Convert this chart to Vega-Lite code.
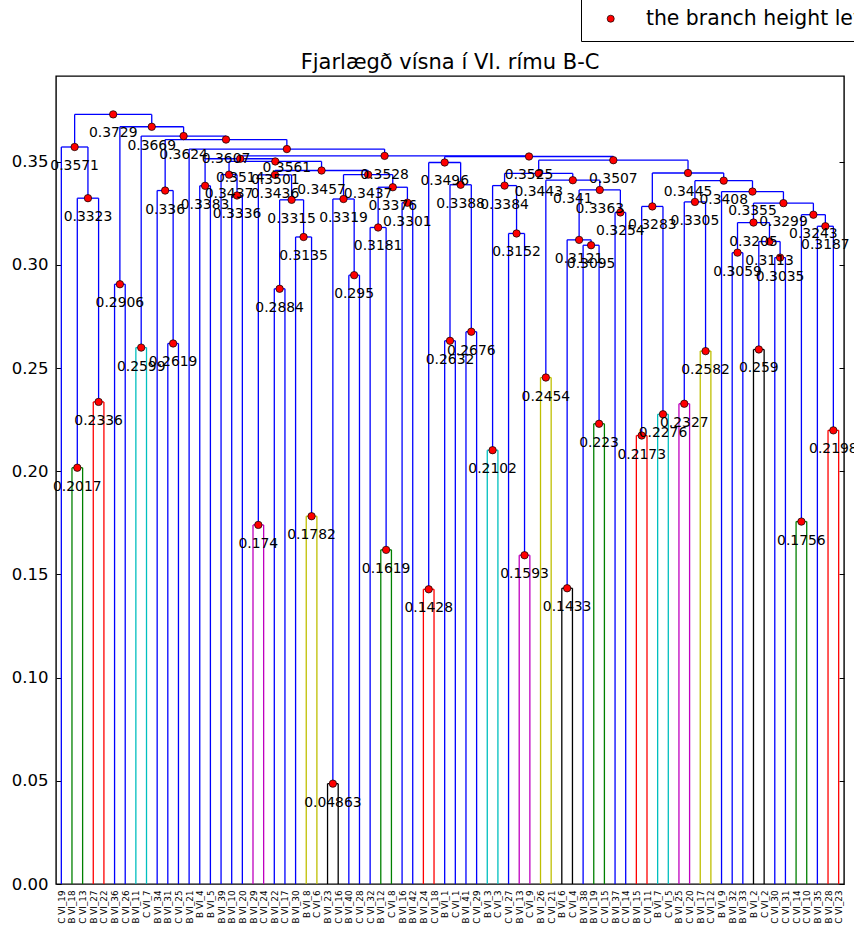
{
 "$schema": "https://vega.github.io/schema/vega-lite/v6.json",
 "width": 788, "height": 808,
 "autosize": {"type": "none"},
 "padding": {"left": 56, "top": 76, "right": 10, "bottom": 42},
 "background": "white",
 "title": {"text": "Fjarlægð vísna í VI. rímu B-C", "fontSize": 21, "fontWeight": "normal", "font": "DejaVu Sans", "color": "black", "offset": 8, "dy": 101, "anchor": "middle", "baseline": "alphabetic"},
 "config": {"view": {"stroke": "black", "strokeWidth": 1.4}, "font": "DejaVu Sans", "axis": {"grid": false, "domain": false}},
 "data": {"values": [
{"h":0.2017,"xl":15,"xr":25,"hl":0,"hr":0,"x":20,"k":"g"},
{"h":0.2336,"xl":35,"xr":45,"hl":0,"hr":0,"x":40,"k":"r"},
{"h":0.3323,"xl":20,"xr":40,"hl":0.2017,"hr":0.2336,"x":30,"k":"b"},
{"h":0.3571,"xl":5,"xr":30,"hl":0,"hr":0.3323,"x":17.5,"k":"b"},
{"h":0.2906,"xl":55,"xr":65,"hl":0,"hr":0,"x":60,"k":"b"},
{"h":0.2599,"xl":75,"xr":85,"hl":0,"hr":0,"x":80,"k":"c"},
{"h":0.2619,"xl":105,"xr":115,"hl":0,"hr":0,"x":110,"k":"b"},
{"h":0.336,"xl":95,"xr":110,"hl":0,"hr":0.2619,"x":102.5,"k":"b"},
{"h":0.3383,"xl":135,"xr":145,"hl":0,"hr":0,"x":140,"k":"b"},
{"h":0.3336,"xl":165,"xr":175,"hl":0,"hr":0,"x":170,"k":"b"},
{"h":0.3437,"xl":155,"xr":170,"hl":0,"hr":0.3336,"x":162.5,"k":"b"},
{"h":0.174,"xl":185,"xr":195,"hl":0,"hr":0,"x":190,"k":"m"},
{"h":0.2884,"xl":205,"xr":215,"hl":0,"hr":0,"x":210,"k":"b"},
{"h":0.1782,"xl":235,"xr":245,"hl":0,"hr":0,"x":240,"k":"y"},
{"h":0.3135,"xl":225,"xr":240,"hl":0,"hr":0.1782,"x":232.5,"k":"b"},
{"h":0.3315,"xl":210,"xr":232.5,"hl":0.2884,"hr":0.3135,"x":221.25,"k":"b"},
{"h":0.3436,"xl":190,"xr":221.25,"hl":0.174,"hr":0.3315,"x":205.625,"k":"b"},
{"h":0.04863,"xl":255,"xr":265,"hl":0,"hr":0,"x":260,"k":"k"},
{"h":0.295,"xl":275,"xr":285,"hl":0,"hr":0,"x":280,"k":"b"},
{"h":0.3319,"xl":260,"xr":280,"hl":0.04863,"hr":0.295,"x":270,"k":"b"},
{"h":0.1619,"xl":305,"xr":315,"hl":0,"hr":0,"x":310,"k":"g"},
{"h":0.3181,"xl":295,"xr":310,"hl":0,"hr":0.1619,"x":302.5,"k":"b"},
{"h":0.3301,"xl":325,"xr":335,"hl":0,"hr":0,"x":330,"k":"b"},
{"h":0.3376,"xl":302.5,"xr":330,"hl":0.3181,"hr":0.3301,"x":316.25,"k":"b"},
{"h":0.3437,"xl":270,"xr":316.25,"hl":0.3319,"hr":0.3376,"x":293.125,"k":"b"},
{"h":0.3457,"xl":205.625,"xr":293.125,"hl":0.3436,"hr":0.3437,"x":249.375,"k":"b"},
{"h":0.3501,"xl":162.5,"xr":249.375,"hl":0.3437,"hr":0.3457,"x":205.938,"k":"b"},
{"h":0.3514,"xl":140,"xr":205.938,"hl":0.3383,"hr":0.3501,"x":172.969,"k":"b"},
{"h":0.1428,"xl":345,"xr":355,"hl":0,"hr":0,"x":350,"k":"r"},
{"h":0.2632,"xl":365,"xr":375,"hl":0,"hr":0,"x":370,"k":"b"},
{"h":0.2676,"xl":385,"xr":395,"hl":0,"hr":0,"x":390,"k":"b"},
{"h":0.3388,"xl":370,"xr":390,"hl":0.2632,"hr":0.2676,"x":380,"k":"b"},
{"h":0.3496,"xl":350,"xr":380,"hl":0.1428,"hr":0.3388,"x":365,"k":"b"},
{"h":0.2102,"xl":405,"xr":415,"hl":0,"hr":0,"x":410,"k":"c"},
{"h":0.1593,"xl":435,"xr":445,"hl":0,"hr":0,"x":440,"k":"m"},
{"h":0.3152,"xl":425,"xr":440,"hl":0,"hr":0.1593,"x":432.5,"k":"b"},
{"h":0.3384,"xl":410,"xr":432.5,"hl":0.2102,"hr":0.3152,"x":421.25,"k":"b"},
{"h":0.2454,"xl":455,"xr":465,"hl":0,"hr":0,"x":460,"k":"y"},
{"h":0.1433,"xl":475,"xr":485,"hl":0,"hr":0,"x":480,"k":"k"},
{"h":0.223,"xl":505,"xr":515,"hl":0,"hr":0,"x":510,"k":"g"},
{"h":0.3095,"xl":495,"xr":510,"hl":0,"hr":0.223,"x":502.5,"k":"b"},
{"h":0.3121,"xl":480,"xr":502.5,"hl":0.1433,"hr":0.3095,"x":491.25,"k":"b"},
{"h":0.3254,"xl":525,"xr":535,"hl":0,"hr":0,"x":530,"k":"b"},
{"h":0.3363,"xl":491.25,"xr":530,"hl":0.3121,"hr":0.3254,"x":510.625,"k":"b"},
{"h":0.341,"xl":460,"xr":510.625,"hl":0.2454,"hr":0.3363,"x":485.313,"k":"b"},
{"h":0.3443,"xl":421.25,"xr":485.313,"hl":0.3384,"hr":0.341,"x":453.281,"k":"b"},
{"h":0.2173,"xl":545,"xr":555,"hl":0,"hr":0,"x":550,"k":"r"},
{"h":0.2276,"xl":565,"xr":575,"hl":0,"hr":0,"x":570,"k":"c"},
{"h":0.3283,"xl":550,"xr":570,"hl":0.2173,"hr":0.2276,"x":560,"k":"b"},
{"h":0.2327,"xl":585,"xr":595,"hl":0,"hr":0,"x":590,"k":"m"},
{"h":0.2582,"xl":605,"xr":615,"hl":0,"hr":0,"x":610,"k":"y"},
{"h":0.3305,"xl":590,"xr":610,"hl":0.2327,"hr":0.2582,"x":600,"k":"b"},
{"h":0.3059,"xl":635,"xr":645,"hl":0,"hr":0,"x":640,"k":"b"},
{"h":0.259,"xl":655,"xr":665,"hl":0,"hr":0,"x":660,"k":"k"},
{"h":0.3035,"xl":675,"xr":685,"hl":0,"hr":0,"x":680,"k":"b"},
{"h":0.3113,"xl":660,"xr":680,"hl":0.259,"hr":0.3035,"x":670,"k":"b"},
{"h":0.3205,"xl":640,"xr":670,"hl":0.3059,"hr":0.3113,"x":655,"k":"b"},
{"h":0.1756,"xl":695,"xr":705,"hl":0,"hr":0,"x":700,"k":"g"},
{"h":0.2198,"xl":725,"xr":735,"hl":0,"hr":0,"x":730,"k":"r"},
{"h":0.3187,"xl":715,"xr":730,"hl":0,"hr":0.2198,"x":722.5,"k":"b"},
{"h":0.3243,"xl":700,"xr":722.5,"hl":0.1756,"hr":0.3187,"x":711.25,"k":"b"},
{"h":0.3299,"xl":655,"xr":711.25,"hl":0.3205,"hr":0.3243,"x":683.125,"k":"b"},
{"h":0.3355,"xl":625,"xr":683.125,"hl":0,"hr":0.3299,"x":654.063,"k":"b"},
{"h":0.3408,"xl":600,"xr":654.063,"hl":0.3305,"hr":0.3355,"x":627.031,"k":"b"},
{"h":0.3445,"xl":560,"xr":627.031,"hl":0.3283,"hr":0.3408,"x":593.516,"k":"b"},
{"h":0.3507,"xl":453.281,"xr":593.516,"hl":0.3443,"hr":0.3445,"x":523.398,"k":"b"},
{"h":0.3525,"xl":365,"xr":523.398,"hl":0.3496,"hr":0.3507,"x":444.199,"k":"b"},
{"h":0.3528,"xl":172.969,"xr":444.199,"hl":0.3514,"hr":0.3525,"x":308.584,"k":"b"},
{"h":0.3561,"xl":125,"xr":308.584,"hl":0,"hr":0.3528,"x":216.792,"k":"b"},
{"h":0.3607,"xl":102.5,"xr":216.792,"hl":0.336,"hr":0.3561,"x":159.646,"k":"b"},
{"h":0.3624,"xl":80,"xr":159.646,"hl":0.2599,"hr":0.3607,"x":119.823,"k":"b"},
{"h":0.3669,"xl":60,"xr":119.823,"hl":0.2906,"hr":0.3624,"x":89.911,"k":"b"},
{"h":0.3729,"xl":17.5,"xr":89.911,"hl":0.3571,"hr":0.3669,"x":53.706,"k":"b"}
 ]},
 "layer": [
  {"mark": {"type": "rule", "strokeWidth": 1.3},
   "encoding": {
    "x": {"field": "xl", "type": "quantitative", "scale": {"domain": [0, 740], "nice": false, "zero": false},
     "axis": {"orient": "bottom", "values": [5,15,25,35,45,55,65,75,85,95,105,115,125,135,145,155,165,175,185,195,205,215,225,235,245,255,265,275,285,295,305,315,325,335,345,355,365,375,385,395,405,415,425,435,445,455,465,475,485,495,505,515,525,535,545,555,565,575,585,595,605,615,625,635,645,655,665,675,685,695,705,715,725,735],
      "labelExpr": "['C VI_19','B VI_18','C VI_13','B VI_27','C VI_22','B VI_36','C VI_26','B VI_11','C VI_7','B VI_34','B VI_31','C VI_25','B VI_21','B VI_4','B VI_5','B VI_39','B VI_10','B VI_20','B VI_29','C VI_24','B VI_22','C VI_17','B VI_30','B VI_8','C VI_6','B VI_23','C VI_16','B VI_40','C VI_28','C VI_32','B VI_12','C VI_8','B VI_16','B VI_42','B VI_24','C VI_18','B VI_1','C VI_1','B VI_41','C VI_29','B VI_3','C VI_3','C VI_27','B VI_13','C VI_9','B VI_26','C VI_21','B VI_6','C VI_4','B VI_38','B VI_19','C VI_15','B VI_37','C VI_14','B VI_15','C VI_11','B VI_7','C VI_5','B VI_25','C VI_20','B VI_17','C VI_12','B VI_9','B VI_32','B VI_33','B VI_2','C VI_2','C VI_30','C VI_31','C VI_14','C VI_10','B VI_35','B VI_28','C VI_23'][(datum.value-5)/10]",
      "labelAngle": 270, "labelFontSize": 8.8, "labelColor": "black", "ticks": false, "tickSize": 0, "labelPadding": 6,
      "labelOverlap": false, "labelFlush": false, "labelBound": false, "title": null, "domain": false, "grid": false}},
    "y": {"field": "hl", "type": "quantitative", "scale": {"domain": [0, 0.3915], "nice": false, "zero": false},
     "axis": {"orient": "left", "values": [0,0.05,0.1,0.15,0.2,0.25,0.3,0.35], "format": ".2f", "labelFontSize": 16.5, "labelColor": "black", "tickColor": "black", "tickSize": -5, "tickWidth": 1, "labelPadding": 13, "title": null, "domain": false, "grid": false}},
    "y2": {"field": "h"},
    "stroke": {"field": "k", "type": "nominal", "scale": {"domain": ["b","g","r","c","m","y","k"], "range": ["#0000ff","#008000","#ff0000","#00bfbf","#bf00bf","#bfbf00","#000000"]}, "legend": null}
   }},
  {"mark": {"type": "rule", "strokeWidth": 1.3},
   "encoding": {
    "x": {"field": "xr", "type": "quantitative", "axis": null},
    "y": {"field": "hr", "type": "quantitative", "axis": null},
    "y2": {"field": "h"},
    "stroke": {"field": "k", "type": "nominal", "legend": null}
   }},
  {"mark": {"type": "rule", "strokeWidth": 1.3},
   "encoding": {
    "x": {"field": "xl", "type": "quantitative", "axis": null},
    "x2": {"field": "xr"},
    "y": {"field": "h", "type": "quantitative", "axis": null},
    "stroke": {"field": "k", "type": "nominal", "legend": null}
   }},
  {"mark": {"type": "point", "shape": "circle", "filled": true, "size": 55, "stroke": "black", "strokeWidth": 0.7, "opacity": 1},
   "encoding": {
    "x": {"field": "x", "type": "quantitative", "axis": null},
    "y": {"field": "h", "type": "quantitative",
     "axis": {"orient": "right", "values": [0,0.05,0.1,0.15,0.2,0.25,0.3,0.35], "labels": false, "tickColor": "black", "tickSize": -5, "tickWidth": 1, "title": null, "domain": false, "grid": false}},
    "fill": {"datum": "the branch height level", "type": "nominal", "scale": {"range": ["#ff0000"]},
     "legend": {"orient": "none", "legendX": 525, "legendY": -79, "title": null, "padding": 11.5, "strokeColor": "black", "fillColor": "white", "cornerRadius": 0,
      "labelFontSize": 20.4, "labelFont": "DejaVu Sans", "labelColor": "black", "labelLimit": 1000, "symbolType": "circle", "symbolSize": 50,
      "symbolStrokeColor": "black", "symbolStrokeWidth": 0.7, "symbolOpacity": 1, "symbolOffset": 8, "labelOffset": 25}}
   }},
  {"mark": {"type": "text", "baseline": "top", "align": "center", "dy": 12, "fontSize": 13.9, "font": "DejaVu Sans", "color": "black"},
   "encoding": {
    "x": {"field": "x", "type": "quantitative", "axis": null},
    "y": {"field": "h", "type": "quantitative", "axis": null},
    "text": {"field": "h", "type": "quantitative", "format": ".4~g"}
   }}
 ],
 "resolve": {"axis": {"x": "independent", "y": "independent"}}
}
